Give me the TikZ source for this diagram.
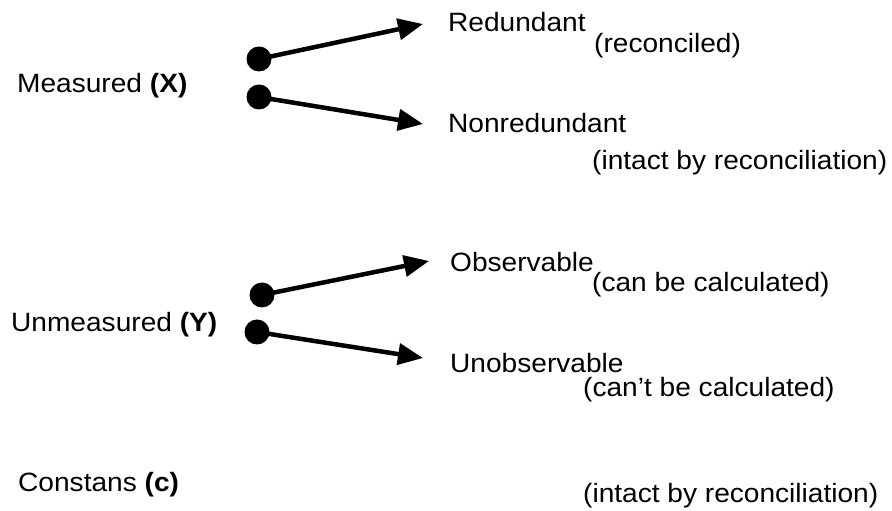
\documentclass[tikz,border=0pt]{standalone}
\usepackage{fontspec}
\setmainfont{Liberation Sans}[FakeStretch=1.06]
\usetikzlibrary{arrows.meta}
\begin{document}
\begin{tikzpicture}[x=1pt, y=1pt, line join=round, line cap=round,
    font=\fontsize{26.5}{31}\selectfont, >={Triangle[length=25pt,width=21pt]},
    dot/.style={circle, fill, inner sep=0pt, minimum size=25pt},
    txt/.style={anchor=base west, inner sep=0pt}]
    \useasboundingbox (0,0) rectangle (892,511);
    % left column
    \node[txt] (meas) at (17,418) {Measured \textbf{(X)}};
    \node[txt] (unmeas) at (11,179) {Unmeasured \textbf{(Y)}};
    \node[txt] (const) at (18,19) {Constans \textbf{(c)}};
    % right column
    \node[txt] (red) at (448,479) {Redundant};
    \node[txt] (redsub) at (594,458) {(reconciled)};
    \node[txt] (nonred) at (448,378) {Nonredundant};
    \node[txt] (nonredsub) at (592,341) {(intact by reconciliation)};
    \node[txt] (obs) at (450,239) {Observable};
    \node[txt] (obssub) at (592,219) {(can be calculated)};
    \node[txt] (unobs) at (450,138) {Unobservable};
    \node[txt] (unobssub) at (583,114) {(can’t be calculated)};
    \node[txt] (constsub) at (583,8) {(intact by reconciliation)};
    % dots and arrows
    \node[dot] (xr) at (259,452) {};
    \node[dot] (xn) at (259,414) {};
    \node[dot] (yo) at (262,216) {};
    \node[dot] (yu) at (257,179) {};
    \coordinate (xrtip) at (423,487);
    \coordinate (xntip) at (423,387);
    \coordinate (yotip) at (429,250);
    \coordinate (yutip) at (423,153);
    \draw[->, line width=4.5pt] (xr.center)--(xrtip);
    \draw[->, line width=4.5pt] (xn.center)--(xntip);
    \draw[->, line width=4.5pt] (yo.center)--(yotip);
    \draw[->, line width=4.5pt] (yu.center)--(yutip);
\end{tikzpicture}
\end{document}
